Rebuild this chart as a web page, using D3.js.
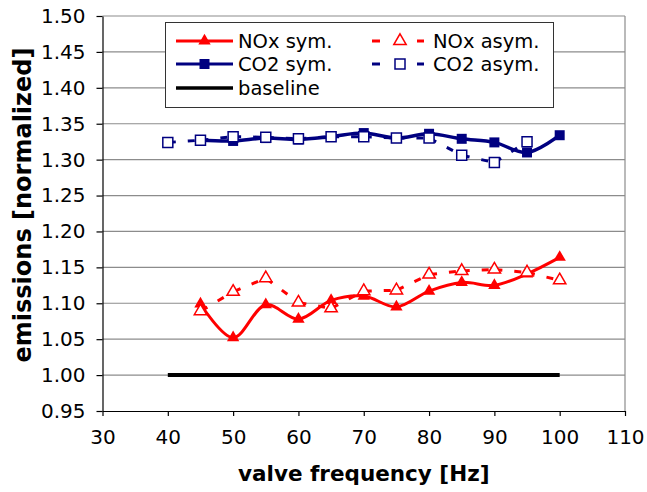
<!DOCTYPE html>
<html>
<head>
<meta charset="utf-8">
<script src="https://cdn.jsdelivr.net/npm/d3@7"></script>
<style>
    body { margin: 0; background: #fff; }
    text { font-family: "DejaVu Sans", sans-serif; }
</style>
</head>
<body>
<svg width="647" height="492"></svg>
<script>
// data (null = no point)
var freq     = [40, 45, 50, 55, 60, 65, 70, 75, 80, 85, 90, 95, 100];
var noxSym   = [null, 1.099, 1.052, 1.098, 1.078, 1.104, 1.110, 1.095, 1.117, 1.129, 1.125, 1.141, 1.164];
var noxAsym  = [null, 1.089, 1.116, 1.135, 1.101, 1.093, 1.117, 1.118, 1.140, 1.145, 1.147, 1.143, 1.132];
var co2Sym   = [null, 1.327, 1.326, 1.330, 1.328, 1.332, 1.337, 1.330, 1.336, 1.329, 1.324, 1.310, 1.334];
var co2Asym  = [1.324, 1.327, 1.332, 1.331, 1.329, 1.332, 1.332, 1.330, 1.330, 1.306, 1.296, 1.325, null];
var baseline = [1.00, 1.00, 1.00, 1.00, 1.00, 1.00, 1.00, 1.00, 1.00, 1.00, 1.00, 1.00, 1.00];

var xTicks = [30, 40, 50, 60, 70, 80, 90, 100, 110];
var yTicks = [0.95, 1.00, 1.05, 1.10, 1.15, 1.20, 1.25, 1.30, 1.35, 1.40, 1.45, 1.50];

var RED = "#ff0000", NAVY = "#000080";

var svg = d3.select("svg");

var x = d3.scaleLinear().domain([30, 110]).range([102.5, 625]);
var y = d3.scaleLinear().domain([0.95, 1.50]).range([411, 16]);

function pts(vals) {
    return freq.map(function (f, i) { return {f: f, v: vals[i]}; })
        .filter(function (d) { return d.v != null; });
}

// grid + frame
svg.append("g").selectAll("line")
    .data(yTicks.slice(1))
    .enter().append("line")
    .attr("x1", x(30)).attr("x2", x(110))
    .attr("y1", function (d) { return y(d); })
    .attr("y2", function (d) { return y(d); })
    .attr("stroke", "#8c8c8c").attr("stroke-width", 1.2);

svg.append("line")
    .attr("x1", x(110)).attr("x2", x(110))
    .attr("y1", y(1.5)).attr("y2", y(0.95))
    .attr("stroke", "#8c8c8c").attr("stroke-width", 1.2);

// axes
var yAxis = svg.append("g")
    .attr("transform", "translate(" + x(30) + ",0)")
    .call(d3.axisLeft(y).tickValues(yTicks).tickFormat(d3.format(".2f"))
        .tickSize(6).tickSizeOuter(0).tickPadding(11));

var xAxis = svg.append("g")
    .attr("transform", "translate(0," + y(0.95) + ")")
    .call(d3.axisBottom(x).tickValues(xTicks).tickFormat(d3.format("d"))
        .tickSize(5).tickSizeOuter(0).tickPadding(14));

[xAxis, yAxis].forEach(function (a) {
    a.attr("font-family", "DejaVu Sans, sans-serif").attr("font-size", 20);
    a.selectAll("text").attr("fill", "#000");
    a.selectAll("line, path").attr("stroke", "#000").attr("stroke-width", 1.2);
});

// axis titles
svg.append("text")
    .attr("x", (x(30) + x(110)) / 2)
    .attr("y", 481)
    .attr("text-anchor", "middle")
    .attr("font-weight", "bold")
    .attr("font-size", 21.5)
    .text("valve frequency [Hz]");

svg.append("text")
    .attr("transform", "translate(31,205) rotate(-90)")
    .attr("text-anchor", "middle")
    .attr("font-weight", "bold")
    .attr("font-size", 24)
    .text("emissions [normalized]");

// baseline
svg.append("path")
    .datum(pts(baseline))
    .attr("fill", "none")
    .attr("stroke", "#000")
    .attr("stroke-width", 4)
    .attr("d", d3.line().x(function (d) { return x(d.f); }).y(function (d) { return y(d.v); }));

var smooth = d3.line()
    .x(function (d) { return x(d.f); })
    .y(function (d) { return y(d.v); })
    .curve(d3.curveCatmullRom);

var tri = d3.symbol().type(d3.symbolTriangle).size(66);
var sq = d3.symbol().type(d3.symbolSquare).size(100);

// symmetric series: smoothed solid line + filled markers
function drawSym(vals, color, shape, width) {
    var data = pts(vals);
    svg.append("path")
        .datum(data)
        .attr("fill", "none")
        .attr("stroke", color)
        .attr("stroke-width", width)
        .attr("d", smooth);
    svg.append("g").selectAll("path")
        .data(data)
        .enter().append("path")
        .attr("transform", function (d) { return "translate(" + x(d.f) + "," + y(d.v) + ")"; })
        .attr("d", shape)
        .attr("fill", color);
}

// asymmetric series: long-dash segments + hollow markers
function drawAsym(vals, color, shape) {
    var data = pts(vals);
    var seg = d3.pairs(data);
    svg.append("g").selectAll("line")
        .data(seg)
        .enter().append("line")
        .attr("x1", function (p) { return x(p[0].f); })
        .attr("y1", function (p) { return y(p[0].v); })
        .attr("x2", function (p) { return x(p[1].f); })
        .attr("y2", function (p) { return y(p[1].v); })
        .attr("stroke", color)
        .attr("stroke-width", 3)
        .attr("stroke-dasharray", "8 12 7 1000");
    svg.append("g").selectAll("path")
        .data(data)
        .enter().append("path")
        .attr("transform", function (d) { return "translate(" + x(d.f) + "," + y(d.v) + ")"; })
        .attr("d", shape)
        .attr("fill", "#fff")
        .attr("stroke", color)
        .attr("stroke-width", 1.5);
}

drawSym(noxSym, RED, tri, 3);
drawSym(co2Sym, NAVY, sq, 3.5);
drawAsym(noxAsym, RED, tri);
drawAsym(co2Asym, NAVY, sq);

// legend
var legend = svg.append("g");
legend.append("rect")
    .attr("x", 165.5).attr("y", 22.5)
    .attr("width", 388).attr("height", 85)
    .attr("fill", "#fff")
    .attr("stroke", "#333")
    .attr("stroke-width", 1);

var legendItems = [
    {label: "NOx sym.",   color: RED,    shape: tri, kind: "sym",  col: 0, row: 0},
    {label: "NOx asym.",  color: RED,    shape: tri, kind: "asym", col: 1, row: 0},
    {label: "CO2 sym.",   color: NAVY,   shape: sq,  kind: "sym",  col: 0, row: 1},
    {label: "CO2 asym.",  color: NAVY,   shape: sq,  kind: "asym", col: 1, row: 1},
    {label: "baseline",   color: "#000", shape: null, kind: "base", col: 0, row: 2}
];
var rowY = [41, 64, 88];
var colX = [176, 372];

legendItems.forEach(function (it) {
    var lx = colX[it.col], ly = rowY[it.row];
    var gi = legend.append("g");
    if (it.kind === "asym") {
        gi.append("line").attr("x1", lx).attr("x2", lx + 8).attr("y1", ly).attr("y2", ly)
            .attr("stroke", it.color).attr("stroke-width", 3);
        gi.append("line").attr("x1", lx + 45).attr("x2", lx + 52).attr("y1", ly).attr("y2", ly)
            .attr("stroke", it.color).attr("stroke-width", 3);
        gi.append("path").attr("transform", "translate(" + (lx + 28) + "," + ly + ")")
            .attr("d", it.shape).attr("fill", "#fff")
            .attr("stroke", it.color).attr("stroke-width", 1.5);
        gi.append("text").attr("x", lx + 61).attr("y", ly).attr("dy", "0.36em")
            .attr("font-size", 19.5).text(it.label);
    } else {
        gi.append("line").attr("x1", lx).attr("x2", lx + 57).attr("y1", ly).attr("y2", ly)
            .attr("stroke", it.color).attr("stroke-width", it.kind === "base" ? 3.5 : 3);
        if (it.shape) {
            gi.append("path").attr("transform", "translate(" + (lx + 28.5) + "," + ly + ")")
                .attr("d", it.shape).attr("fill", it.color);
        }
        gi.append("text").attr("x", lx + 62).attr("y", ly).attr("dy", "0.36em")
            .attr("font-size", 19.5).text(it.label);
    }
});
</script>
</body>
</html>
